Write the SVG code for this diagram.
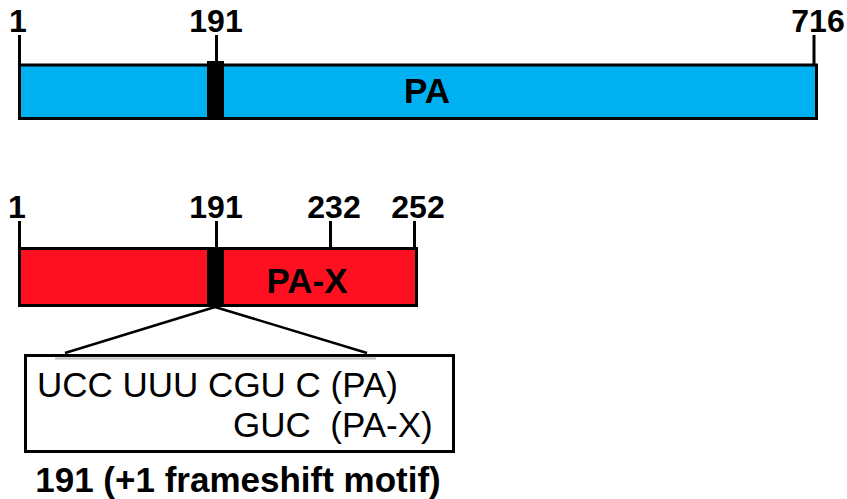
<svg xmlns="http://www.w3.org/2000/svg" width="847" height="499" viewBox="0 0 847 499">
<style>
.lbl{font-family:"Liberation Sans",Arial,sans-serif;font-weight:bold;font-size:32px;fill:#000;text-anchor:middle}
.name{font-family:"Liberation Sans",Arial,sans-serif;font-weight:bold;font-size:35px;fill:#000;text-anchor:middle}
.seq{font-family:"Liberation Sans",Arial,sans-serif;font-size:35px;fill:#000;white-space:pre}
.cap{font-family:"Liberation Sans",Arial,sans-serif;font-weight:bold;font-size:35px;fill:#000;text-anchor:middle}
.tick{stroke:#000;stroke-width:3;fill:none}
.bar{stroke:#000;stroke-width:3}
.conn{stroke:#000;stroke-width:2.5;fill:none}
</style>
<rect width="847" height="499" fill="#fff"/>
<g id="pa">
<line class="tick" x1="19.5" y1="35" x2="19.5" y2="65"/>
<line class="tick" x1="216.5" y1="35" x2="216.5" y2="62"/>
<line class="tick" x1="814" y1="35" x2="814" y2="65"/>
<rect class="bar" x="19.5" y="65" width="797" height="53.5" fill="#00B0F0"/>
<rect x="207" y="61" width="17" height="59" fill="#000"/>
<text class="lbl" x="18" y="32">1</text>
<text class="lbl" x="216" y="32">191</text>
<text class="lbl" x="818" y="32">716</text>
<text class="name" x="427" y="103">PA</text>
</g>
<g id="pax">
<line class="tick" x1="19.5" y1="221" x2="19.5" y2="249"/>
<line class="tick" x1="216.5" y1="221" x2="216.5" y2="249"/>
<line class="tick" x1="330.5" y1="221" x2="330.5" y2="252"/>
<line class="tick" x1="414.5" y1="221" x2="414.5" y2="250"/>
<rect class="bar" x="19.5" y="248.5" width="397" height="57" fill="#FF1020"/>
<rect x="207" y="247" width="17" height="60" fill="#000"/>
<text class="lbl" x="17" y="218">1</text>
<text class="lbl" x="216" y="218">191</text>
<text class="lbl" x="334" y="218">232</text>
<text class="lbl" x="418" y="218">252</text>
<text class="name" x="307" y="293">PA-X</text>
</g>
<g id="connectors">
<line class="conn" x1="215" y1="307" x2="65" y2="353"/>
<line class="conn" x1="215" y1="307" x2="367" y2="353"/>
</g>
<g id="motif">
<rect x="25.5" y="355.5" width="428" height="96" fill="#fff" stroke="#000" stroke-width="3"/>
<line x1="55" y1="358.5" x2="376" y2="358.5" stroke="#bbb" stroke-width="2"/>
<text class="seq" x="37" y="397">UCC UUU CGU C (PA)</text>
<text class="seq" x="233" y="437">GUC  (PA-X)</text>
</g>
<g id="caption">
<text class="cap" x="238" y="492">191 (+1 frameshift motif)</text>
</g>
</svg>
